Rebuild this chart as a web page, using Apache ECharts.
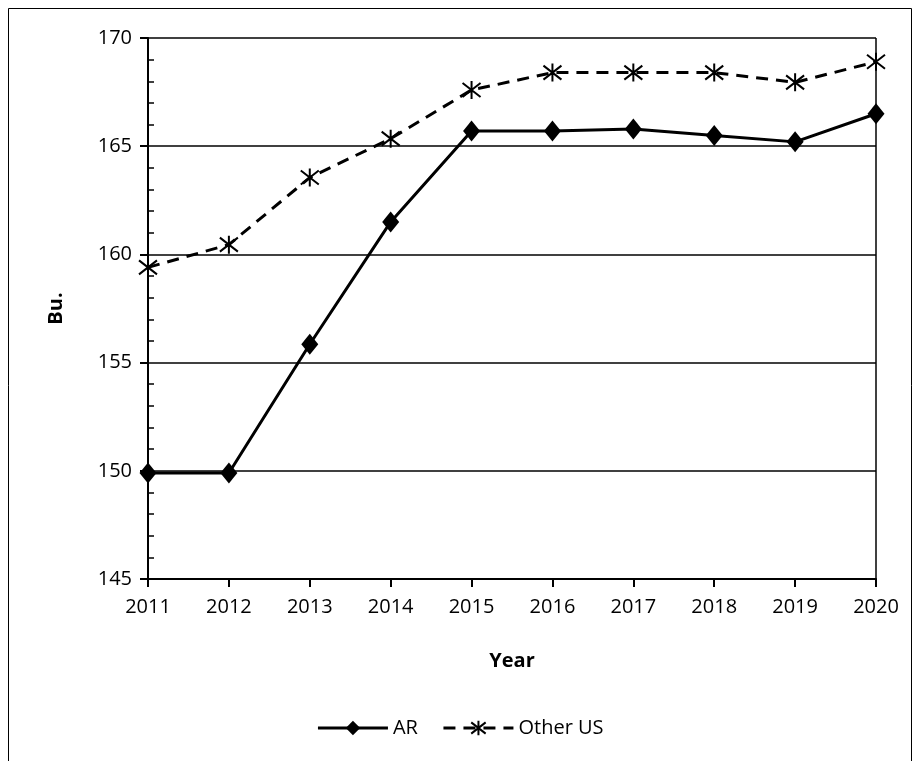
<!DOCTYPE html>
<html>
<head>
<meta charset="utf-8">
<script src="https://cdn.jsdelivr.net/npm/echarts@6/dist/echarts.min.js"></script>
<style>html,body{margin:0;padding:0;background:#fff}#chart{width:920px;height:761px}</style>
</head>
<body>
<div id="chart"></div>
<script>
var years = ['2011','2012','2013','2014','2015','2016','2017','2018','2019','2020'];
var arValues = [149.9, 149.9, 155.85, 161.5, 165.7, 165.7, 165.8, 165.5, 165.2, 166.5];
var otherValues = [159.4, 160.45, 163.55, 165.35, 167.6, 168.4, 168.4, 168.4, 167.95, 168.9];

var font = 'Open Sans';
var myChart = echarts.init(document.getElementById('chart'));
var option = {
    backgroundColor: '#fff',
    textStyle: {fontFamily: font, color: '#000'},
    graphic: [{
        type: 'rect',
        shape: {x: 8.5, y: 8.5, width: 903, height: 780},
        style: {fill: 'none', stroke: '#000', lineWidth: 1}
    }],
    legend: {
        bottom: 18,
        left: 'center',
        itemWidth: 70,
        itemHeight: 18,
        itemGap: 24,
        lineStyle: {width: 3},
        textStyle: {fontFamily: font, fontSize: 20, color: '#000'},
        data: ['AR', 'Other US']
    },
    grid: {left: 148, right: 44, top: 38, bottom: 182, containLabel: false},
    xAxis: {
        type: 'category',
        data: years,
        boundaryGap: false,
        name: 'Year',
        nameLocation: 'middle',
        nameGap: 72,
        nameTextStyle: {fontFamily: font, fontSize: 20, fontWeight: 'bold', color: '#000'},
        axisLine: {lineStyle: {color: '#000', width: 2}},
        axisTick: {show: true, length: 8, lineStyle: {color: '#000', width: 2}},
        axisLabel: {fontFamily: font, fontSize: 20, color: '#000', margin: 18},
        splitLine: {
            show: true,
            interval: function (index) { return index === years.length - 1; },
            lineStyle: {color: '#000', width: 1.5}
        }
    },
    yAxis: {
        type: 'value',
        min: 145,
        max: 170,
        interval: 5,
        name: 'Bu.',
        nameLocation: 'middle',
        nameGap: 82,
        nameTextStyle: {fontFamily: font, fontSize: 20, fontWeight: 'bold', color: '#000'},
        axisLine: {show: true, lineStyle: {color: '#000', width: 2}},
        axisTick: {show: true, length: 8, lineStyle: {color: '#000', width: 2}},
        minorTick: {show: true, splitNumber: 5, length: -6, lineStyle: {color: '#000', width: 1.5}},
        axisLabel: {fontFamily: font, fontSize: 20, color: '#000', margin: 16},
        splitLine: {show: true, lineStyle: {color: '#000', width: 1.5}, showMinLine: false}
    },
    series: [
        {
            name: 'AR',
            type: 'line',
            data: arValues,
            symbol: 'diamond',
            symbolSize: [17, 21],
            lineStyle: {color: '#000', width: 3},
            itemStyle: {color: '#000'}
        },
        {
            name: 'Other US',
            type: 'line',
            data: otherValues,
            symbol: 'path://M-7,-7L7,7M-7,7L7,-7M0,-9L0,9',
            symbolSize: 18,
            lineStyle: {color: '#000', width: 3, type: [12, 8]},
            itemStyle: {color: 'none', borderColor: '#000', borderWidth: 2}
        }
    ]
};
myChart.setOption(option);
</script>
</body>
</html>
